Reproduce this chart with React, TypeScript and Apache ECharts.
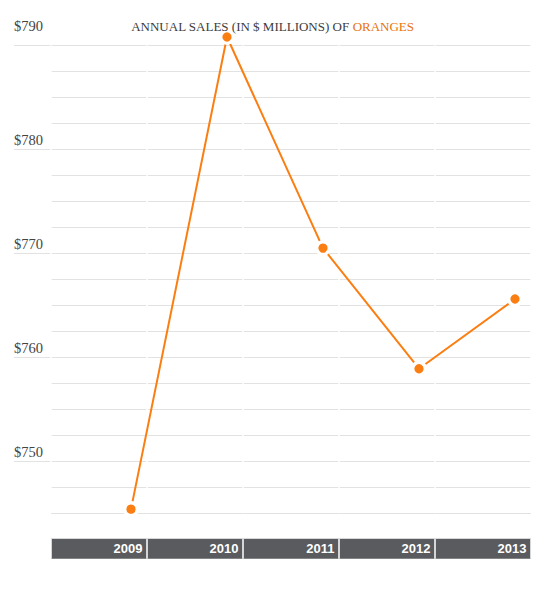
import React, { useEffect, useRef } from "react";
import * as echarts from "echarts";

const years = ["2009", "2010", "2011", "2012", "2013"];
const sales = [745.4, 790.8, 770.5, 758.9, 765.6];
const yMin = 745;
const yMax = 790;
const minorStep = 2.5;
const majorMin = 750;
const majorStep = 10;
const titleMain = "ANNUAL SALES (IN $ MILLIONS) OF ";
const titleFruit = "ORANGES";

const SERIF = '"Liberation Serif", "DejaVu Serif", serif';
const SANS = '"Liberation Sans", Arial, sans-serif';
const ORANGE = "#fb7e12";
const GRID_GREY = "#e2e2e2";
const BAND = "#5a5b5e";

export default function App() {
  const ref = useRef<HTMLDivElement>(null);
  useEffect(() => {
    document.body.style.margin = "0";
    const chart = echarts.init(ref.current!, null, { renderer: "svg" });
    const top = 45.3;
    const bottom = 80.7;
    const majorBottom = 132.7;
    chart.setOption({
      animation: false,
      backgroundColor: "#fff",
      title: {
        left: "center",
        top: 14.5,
        text: `{a|${titleMain}}{b|${titleFruit}}`,
        textStyle: {
          rich: {
            a: { fontFamily: SERIF, fontSize: 13, fontWeight: "normal", color: "#3c3c3c" },
            b: { fontFamily: SERIF, fontSize: 13, fontWeight: "normal", color: "#e8730c" },
          },
        },
      },
      grid: [
        { left: 51, right: 14, top, bottom },
        { left: 14, right: 14, top, bottom: majorBottom },
        { left: 51, right: 14, top: 538.7, height: 20 },
        { left: 83, width: 480, top, bottom, outerBoundsMode: "none" },
      ],
      xAxis: [
        {
          gridIndex: 0,
          type: "category",
          data: years,
          boundaryGap: true,
          z: 3,
          axisLine: { show: false },
          axisTick: { show: false },
          axisLabel: { show: false },
          splitLine: { show: true, lineStyle: { color: "#fff", width: 1.5 } },
        },
        { gridIndex: 1, type: "category", data: years, show: false },
        {
          gridIndex: 2,
          type: "category",
          data: years,
          boundaryGap: true,
          axisLine: { show: false },
          axisTick: { show: false },
          splitArea: { show: true, areaStyle: { color: [BAND] } },
          splitLine: { show: true, lineStyle: { color: "#fff", width: 1.5 } },
          axisLabel: {
            inside: true,
            margin: 10,
            verticalAlign: "middle",
            align: "center",
            formatter: (v: string) => `{y|${v}}`,
            rich: {
              y: {
                width: 87,
                align: "right",
                color: "#fff",
                fontFamily: SANS,
                fontWeight: "bold",
                fontSize: 13,
              },
            },
          },
        },
        { gridIndex: 3, type: "category", data: years, boundaryGap: true, show: false },
      ],
      yAxis: [
        {
          gridIndex: 0,
          type: "value",
          min: yMin,
          max: yMax,
          interval: minorStep,
          axisLine: { show: false },
          axisTick: { show: false },
          axisLabel: { show: false },
          splitLine: { show: true, lineStyle: { color: GRID_GREY, width: 1 } },
        },
        {
          gridIndex: 1,
          type: "value",
          min: majorMin,
          max: yMax,
          interval: majorStep,
          axisLine: { show: false },
          axisTick: { show: false },
          splitLine: { show: true, lineStyle: { color: GRID_GREY, width: 1 } },
          axisLabel: {
            inside: true,
            margin: 0,
            align: "left",
            verticalAlign: "bottom",
            formatter: (v: number) => (v === yMax ? `{t|$${v}}` : `{n|$${v}}`),
            rich: {
              t: { fontFamily: SERIF, fontSize: 14.5, color: "#444", padding: [0, 0, 12, 0] },
              n: { fontFamily: SERIF, fontSize: 14.5, color: "#444", padding: [0, 0, 2, 0] },
            },
          },
        },
        { gridIndex: 2, type: "value", show: false, min: 0, max: 1 },
        { gridIndex: 3, type: "value", show: false, min: yMin, max: yMax },
      ],
      series: [
        {
          type: "line",
          xAxisIndex: 3,
          yAxisIndex: 3,
          data: sales,
          clip: false,
          z: 5,
          lineStyle: { color: ORANGE, width: 2 },
          symbol: "circle",
          symbolSize: 12.6,
          itemStyle: { color: ORANGE, borderColor: "#fff", borderWidth: 3.3 },
        },
      ],
    });
    return () => chart.dispose();
  }, []);
  return <div ref={ref} style={{ width: 545, height: 594 }} />;
}
